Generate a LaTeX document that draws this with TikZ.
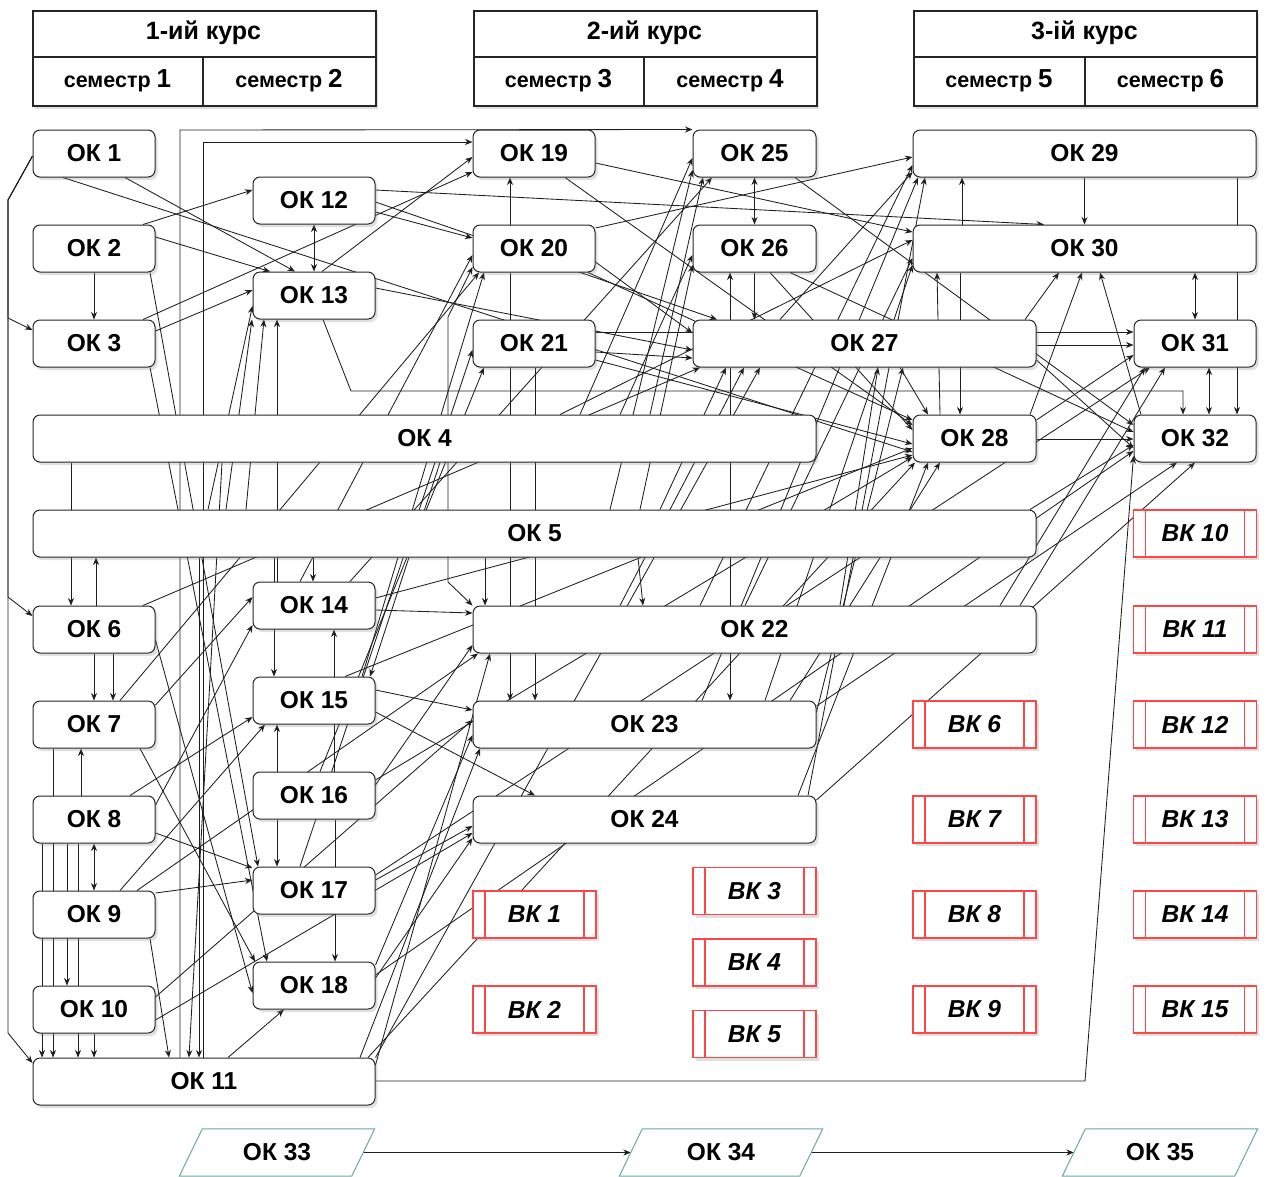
\documentclass[tikz,border=0pt]{standalone}
\usepackage{fontspec}
\setmainfont{Liberation Sans}
\usetikzlibrary{arrows.meta,shadows,backgrounds}
\definecolor{vkred}{RGB}{255,70,70}
\definecolor{tealb}{RGB}{103,171,159}
\definecolor{edgec}{RGB}{30,30,30}
\begin{document}
\begin{tikzpicture}[x=1pt,y=-1pt,
  shad/.style={drop shadow={opacity=0.25,shadow xshift=2.5pt,shadow yshift=-3pt}},
  ok/.style={draw=black!85,line width=1pt,fill=white,rounded corners=7pt,minimum height=47pt,inner sep=0pt,font=\fontsize{24.5}{28}\selectfont\bfseries,shad},
  hdr/.style={draw=black!85,line width=1.8pt,fill=white,inner sep=0pt,shad},
  htxt/.style={font=\fontsize{25}{30}\selectfont\bfseries,inner sep=0pt},
  stxt/.style={font=\fontsize{21.5}{26}\selectfont\bfseries,inner sep=0pt},
  vk/.style={draw=vkred,line width=1.1pt,fill=white,minimum width=123pt,minimum height=47pt,inner sep=0pt,font=\fontsize{24.5}{28}\selectfont\bfseries\itshape,shad,
    path picture={\draw[vkred,line width=1.1pt] ([xshift=12pt]path picture bounding box.north west) -- ([xshift=12pt]path picture bounding box.south west) ([xshift=-12pt]path picture bounding box.north east) -- ([xshift=-12pt]path picture bounding box.south east);}},
  ptxt/.style={minimum height=47pt,inner sep=0pt,font=\fontsize{24.5}{28}\selectfont\bfseries},
  para/.style={draw=tealb,line width=1pt},
  l/.style={draw=edgec,line width=0.85pt},
  e/.style={l,-{Stealth[length=7.5pt,width=6pt]}},
  ee/.style={l,{Stealth[length=7.5pt,width=6pt]}-{Stealth[length=7.5pt,width=6pt]}}
]
\useasboundingbox (0,0) rectangle (1268,1176);

% ---------- headers ----------
\node[hdr,minimum width=343pt,minimum height=95pt,anchor=north west] (h1) at (32,10) {};
\node[hdr,minimum width=343pt,minimum height=95pt,anchor=north west] (h2) at (473,10) {};
\node[hdr,minimum width=343pt,minimum height=95pt,anchor=north west] (h3) at (913,10) {};
\foreach \h/\s in {h1/203,h2/644,h3/1085}{
  \draw[draw=black!85,line width=1.8pt] (\h.west |- 0,57) -- (\h.east |- 0,57);
  \draw[draw=black!85,line width=1.8pt] (\h.south -| \s,0) -- (\s,57);
}
\node[htxt] (t1) at (203.5,33) {1-ий курс};
\node[htxt] (t2) at (644.5,33) {2-ий курс};
\node[htxt] (t3) at (1084.5,33) {3-ій курс};
\node[stxt] (s1) at (117.5,81) {семестр {\fontsize{26}{28}\selectfont 1}};
\node[stxt] (s2) at (289,81) {семестр {\fontsize{26}{28}\selectfont 2}};
\node[stxt] (s3) at (558.5,81) {семестр {\fontsize{26}{28}\selectfont 3}};
\node[stxt] (s4) at (730,81) {семестр {\fontsize{26}{28}\selectfont 4}};
\node[stxt] (s5) at (999,81) {семестр {\fontsize{26}{28}\selectfont 5}};
\node[stxt] (s6) at (1170.5,81) {семестр {\fontsize{26}{28}\selectfont 6}};

% ---------- OK nodes ----------
\node[ok,minimum width=122pt] (ok1) at (94,153.5) {ОК 1};
\node[ok,minimum width=122pt] (ok2) at (94,248.5) {ОК 2};
\node[ok,minimum width=122pt] (ok3) at (94,343.5) {ОК 3};
\node[ok,minimum width=783pt] (ok4) at (424.5,438.5) {ОК 4};
\node[ok,minimum width=1003pt] (ok5) at (534.5,533.5) {ОК 5};
\node[ok,minimum width=122pt] (ok6) at (94,629.5) {ОК 6};
\node[ok,minimum width=122pt] (ok7) at (94,724.5) {ОК 7};
\node[ok,minimum width=122pt] (ok8) at (94,819.5) {ОК 8};
\node[ok,minimum width=122pt] (ok9) at (94,914.5) {ОК 9};
\node[ok,minimum width=122pt] (ok10) at (94,1009.5) {ОК 10};
\node[ok,minimum width=342pt] (ok11) at (204,1081.5) {ОК 11};
\node[ok,minimum width=122pt] (ok12) at (314,200.5) {ОК 12};
\node[ok,minimum width=122pt] (ok13) at (314,295.5) {ОК 13};
\node[ok,minimum width=122pt] (ok14) at (314,605.5) {ОК 14};
\node[ok,minimum width=122pt] (ok15) at (314,700.5) {ОК 15};
\node[ok,minimum width=122pt] (ok16) at (314,795.5) {ОК 16};
\node[ok,minimum width=122pt] (ok17) at (314,890.5) {ОК 17};
\node[ok,minimum width=122pt] (ok18) at (314,985.5) {ОК 18};
\node[ok,minimum width=122pt] (ok19) at (534,153.5) {ОК 19};
\node[ok,minimum width=122pt] (ok20) at (534,248.5) {ОК 20};
\node[ok,minimum width=122pt] (ok21) at (534,343.5) {ОК 21};
\node[ok,minimum width=563pt] (ok22) at (754.5,629.5) {ОК 22};
\node[ok,minimum width=343pt] (ok23) at (644.5,724.5) {ОК 23};
\node[ok,minimum width=343pt] (ok24) at (644.5,819.5) {ОК 24};
\node[ok,minimum width=123pt] (ok25) at (754.5,153.5) {ОК 25};
\node[ok,minimum width=123pt] (ok26) at (754.5,248.5) {ОК 26};
\node[ok,minimum width=343pt] (ok27) at (864.5,343.5) {ОК 27};
\node[ok,minimum width=123pt] (ok28) at (974.5,438.5) {ОК 28};
\node[ok,minimum width=343pt] (ok29) at (1084.5,153.5) {ОК 29};
\node[ok,minimum width=343pt] (ok30) at (1084.5,248.5) {ОК 30};
\node[ok,minimum width=122pt] (ok31) at (1195,343.5) {ОК 31};
\node[ok,minimum width=122pt] (ok32) at (1195,438.5) {ОК 32};

% ---------- VK nodes ----------
\node[vk] (vk1) at (534.5,914.5) {ВК 1};
\node[vk] (vk2) at (534.5,1009.5) {ВК 2};
\node[vk] (vk3) at (754.5,891) {ВК 3};
\node[vk] (vk4) at (754.5,962.5) {ВК 4};
\node[vk] (vk5) at (754.5,1034) {ВК 5};
\node[vk] (vk6) at (974.5,724.5) {ВК 6};
\node[vk] (vk7) at (974.5,819.5) {ВК 7};
\node[vk] (vk8) at (974.5,914.5) {ВК 8};
\node[vk] (vk9) at (974.5,1009.5) {ВК 9};
\node[vk] (vk10) at (1195,533.5) {ВК 10};
\node[vk] (vk11) at (1195,629.5) {ВК 11};
\node[vk] (vk12) at (1195,724.5) {ВК 12};
\node[vk] (vk13) at (1195,819.5) {ВК 13};
\node[vk] (vk14) at (1195,914.5) {ВК 14};
\node[vk] (vk15) at (1195,1009.5) {ВК 15};

% ---------- parallelograms ----------
\node[ptxt,minimum width=172pt] (ok33) at (277,1152.5) {ОК 33};
\node[ptxt,minimum width=180pt] (ok34) at (721,1152.5) {ОК 34};
\node[ptxt,minimum width=172pt] (ok35) at (1160,1152.5) {ОК 35};
\foreach \p in {ok33,ok34,ok35}{
  \draw[para] ([xshift=11.5pt]\p.north west) -- ([xshift=11.5pt]\p.north east) -- ([xshift=-11.5pt]\p.south east) -- ([xshift=-11.5pt]\p.south west) -- cycle;
}

% ---------- connectors ----------
\begin{scope}[on background layer]
% orthogonal / vertical
\path[e] (ok1.west |- 0,156) -- (8,200) -- (8,1033) -- (ok11.west |- 0,1063);
\path[e] (ok1.west |- 0,156) -- (8,200) -- (8,318) -- (ok3.west |- 0,330);
\path[e] (ok1.west |- 0,156) -- (8,200) -- (8,597) -- (ok6.west |- 0,616);
\path[e] (ok2.south) -- (ok3.north);
\path[ee] (ok12.south) -- (ok13.north);
\path[e] (ok11.north -| 180,0) -- (180,130) -- (ok25.north west);
\path[e] (ok11.north -| 203,0) -- (203,142) -- (ok19.west |- 0,142);
\path[e] (ok20.north -| 510,0) -- (ok19.south -| 510,0);
\path[e] (ok20.south -| 510,0) -- (ok23.north -| 510,0);
\path[e] (ok21.south -| 535,0) -- (ok23.north -| 535,0);
\path[ee] (ok25.south) -- (ok26.north);
\path[e] (ok26.south) -- (ok27.north -| 754.5,0);
\path[e] (ok27.north -| 730,0) -- (ok26.south -| 730,0);
\path[e] (ok27.south -| 730,0) -- (ok23.north -| 730,0);
\path[e] (ok29.south) -- (ok30.north);
\path[e] (ok30.north -| 962,0) -- (ok29.south -| 962,0);
\path[e] (ok30.south -| 960,0) -- (ok28.north -| 960,0);
\path[e] (ok29.south -| 1237,0) -- (ok32.north -| 1237,0);
\path[ee] (ok30.south -| 1195,0) -- (ok31.north);
\path[ee] (ok31.south -| 1209,0) -- (ok32.north -| 1209,0);
\path[e] (ok21.east |- 0,332) -- (ok31.west |- 0,332);
\path[e] (ok27.east |- 0,345) -- (ok31.west |- 0,345);
\path[e] (ok28.east |- 0,439) -- (ok32.west |- 0,439);
\path[e] (ok13.south -| 323,0) -- (351,391) -- (1183,391) -- (ok32.north -| 1183,0);
\path[e] (ok11.east |- 0,1081) -- (1085,1081) -- (ok32.west |- 0,456);
\path[e] (ok33.east) -- (ok34.west);
\path[e] (ok34.east) -- (ok35.west);
\path[e] (ok4.south -| 71,0) -- (ok6.north -| 71,0);
\path[e] (ok6.north -| 96,0) -- (ok5.south -| 96,0);
\path[e] (ok6.south -| 94,0) -- (ok7.north -| 94,0);
\path[e] (ok6.south -| 113,0) -- (ok7.north -| 113,0);
\path[e] (ok8.north -| 81,0) -- (ok7.south -| 81,0);
\path[e] (ok7.south -| 53,0) -- (ok11.north -| 53,0);
\path[e] (ok8.south -| 42,0) -- (ok11.north -| 42,0);
\path[e] (ok8.south -| 78,0) -- (ok11.north -| 78,0);
\path[e] (ok8.south -| 67,0) -- (ok10.north -| 67,0);
\path[ee] (ok8.south) -- (ok9.north);
\path[e] (ok10.south) -- (ok11.north -| 94,0);
\path[e] (ok16.south -| 277,0) -- (ok17.north -| 277,0);
\path[e] (ok16.north -| 277,0) -- (ok15.south -| 277,0);
\path[e] (ok16.north -| 334,0) -- (ok14.south -| 334,0);
\path[e] (ok16.south -| 335,0) -- (ok18.north -| 335,0);
\path[e] (ok5.south -| 313,0) -- (ok14.north -| 313,0);
\path[e] (ok5.south -| 274,0) -- (ok15.north -| 274,0);
\path[ee] (ok20.west |- 0,267) -- (448,317) -- (448,582) -- (ok22.north west);
\path[e] (ok5.south -| 485,0) -- (ok22.north -| 485,0);
\path[e] (ok5.south -| 638,0) -- (ok22.north -| 643,0);
\path[e] (ok5.north -| 226,0) -- (ok13.south -| 252,0);
\path[e] (ok5.north -| 246,0) -- (ok13.south -| 264,0);
\path[e] (ok14.north -| 277,0) -- (ok13.south -| 277,0);
\path[e] (ok5.north -| 208,0) -- (ok13.west |- 0,306);
% diagonals - upper left
\path[e] (ok1.south -| 125,0) -- (ok13.north -| 295,0);
\path[e] (ok1.south -| 63,0) -- (ok28.west |- 0,452);
\path[e] (ok2.north -| 143,0) -- (ok12.west |- 0,190);
\path[e] (ok2.east |- 0,237) -- (ok13.north -| 270,0);
\path[e] (ok2.south -| 150,0) -- (ok17.north -| 258,0);
\path[e] (ok3.east |- 0,331) -- (ok13.west |- 0,290);
\path[e] (ok3.north -| 143,0) -- (ok19.west |- 0,172);
\path[e] (ok13.north -| 322,0) -- (ok19.west |- 0,157);
\path[e] (ok12.east |- 0,190) -- (ok30.north -| 1044,0);
\path[e] (ok12.east |- 0,202) -- (ok27.north -| 717,0);
\path[e] (ok12.east |- 0,212) -- (ok20.west |- 0,238);
\path[e] (ok13.east |- 0,288) -- (ok27.west |- 0,350);
\path[e] (ok3.south -| 150,0) -- (ok18.north -| 267,0);
% upper middle
\path[e] (ok19.east |- 0,163) -- (ok30.west |- 0,232);
\path[e] (ok19.south -| 565,0) -- (ok28.west |- 0,425);
\path[e] (ok20.east |- 0,228) -- (ok29.west |- 0,157);
\path[e] (ok20.east |- 0,262) -- (ok27.west |- 0,333);
\path[e] (ok20.south -| 588,0) -- (ok28.west |- 0,420);
\path[e] (ok21.east |- 0,352) -- (ok27.west |- 0,358);
\path[e] (ok21.east |- 0,360) -- (ok28.west |- 0,444);
\path[e] (ok25.south -| 795,0) -- (ok32.west |- 0,425);
\path[e] (ok26.south -| 770,0) -- (ok28.west |- 0,430);
\path[e] (ok26.south -| 790,0) -- (ok32.west |- 0,432);
\path[e] (ok27.east |- 0,360) -- (ok32.west |- 0,448);
\path[e] (ok27.south -| 900,0) -- (ok28.north -| 928,0);
\path[e] (ok27.north -| 1025,0) -- (ok30.south -| 1059,0);
\path[e] (ok28.north -| 940,0) -- (ok30.south -| 937,0);
\path[e] (ok28.north -| 1030,0) -- (ok30.south -| 1082,0);
\path[e] (ok32.north -| 1141,0) -- (ok30.south -| 1100,0);
\path[e] (ok28.east |- 0,420) -- (ok31.west |- 0,355);
\path[e] (ok27.north -| 780,0) -- (ok29.west |- 0,172);
% from OK4 / OK5 upwards
\path[e] (ok4.north -| 580,0) -- (ok25.west |- 0,158);
\path[e] (ok5.north -| 610,0) -- (ok25.west |- 0,170);
\path[e] (ok4.north -| 650,0) -- (ok25.south -| 703,0);
\path[e] (ok4.north -| 620,0) -- (ok26.west |- 0,255);
\path[e] (ok5.north -| 640,0) -- (ok26.west |- 0,265);
\path[e] (ok4.north -| 560,0) -- (ok30.west |- 0,240);
\path[e] (ok5.north -| 660,0) -- (ok27.south -| 726,0);
\path[e] (ok5.north -| 1030,0) -- (ok32.west |- 0,445);
% from OK22 / OK23 / OK24 upwards
\path[e] (ok22.north -| 700,0) -- (ok29.west |- 0,165);
\path[e] (ok23.north -| 702,0) -- (ok29.south -| 918,0);
\path[e] (ok22.north -| 745,0) -- (ok30.west |- 0,258);
\path[e] (ok23.north -| 765,0) -- (ok30.west |- 0,265);
\path[e] (ok24.north -| 808,0) -- (ok29.south -| 925,0);
\path[e] (ok22.north -| 620,0) -- (ok27.south -| 744,0);
\path[e] (ok22.north -| 840,0) -- (ok27.south -| 878,0);
\path[e] (ok23.east |- 0,712) -- (ok27.south -| 903,0);
\path[e] (ok23.east |- 0,706) -- (ok32.south -| 1177,0);
\path[e] (ok24.east |- 0,800) -- (ok32.south -| 1195,0);
\path[e] (ok24.north -| 798,0) -- (ok28.south -| 928,0);
\path[e] (ok23.north -| 790,0) -- (ok28.south -| 940,0);
\path[e] (ok22.north -| 1000,0) -- (ok31.south -| 1145,0);
\path[e] (ok22.north -| 1020,0) -- (ok31.south -| 1165,0);
% lower left cluster
\path[e] (ok11.north -| 368,0) -- (ok28.south -| 915,0);
\path[e] (ok18.east |- 0,975) -- (ok32.west |- 0,451);
\path[e] (ok17.east |- 0,875) -- (ok31.south -| 1150,0);
\path[e] (ok16.east |- 0,780) -- (ok28.west |- 0,457);
\path[e] (ok15.north -| 345,0) -- (ok28.west |- 0,448);
\path[e] (ok14.east |- 0,598) -- (ok28.west |- 0,455);
\path[e] (ok14.east |- 0,610) -- (ok22.west |- 0,613);
\path[e] (ok15.east |- 0,690) -- (ok23.west |- 0,710);
\path[e] (ok15.east |- 0,712) -- (ok24.north -| 535,0);
\path[e] (ok7.north -| 120,0) -- (ok20.south -| 479,0);
\path[e] (ok6.north -| 143,0) -- (ok27.south -| 700,0);
\path[e] (ok7.east |- 0,705) -- (ok14.west |- 0,597);
\path[e] (ok8.east |- 0,805) -- (ok14.west |- 0,625);
\path[e] (ok8.east |- 0,833) -- (ok17.west |- 0,868);
\path[e] (ok9.east |- 0,893) -- (ok17.west |- 0,880);
\path[e] (ok6.east |- 0,640) -- (ok18.west |- 0,993);
\path[e] (ok11.north -| 228,0) -- (ok18.south -| 284,0);
\path[e] (ok10.east |- 0,997) -- (ok23.west |- 0,720);
\path[e] (ok10.east |- 0,1020) -- (ok24.west |- 0,833);
\path[e] (ok9.north -| 120,0) -- (ok15.south -| 265,0);
\path[e] (ok8.north -| 130,0) -- (ok15.west |- 0,717);
\path[e] (ok9.north -| 137,0) -- (ok22.south -| 478,0);
\path[e] (ok14.north -| 300,0) -- (ok20.west |- 0,255);
\path[e] (ok15.north -| 362,0) -- (ok20.south -| 484,0);
\path[e] (ok17.north -| 300,0) -- (ok21.west |- 0,350);
\path[e] (ok16.north -| 320,0) -- (ok21.south -| 484,0);
\path[e] (ok4.south -| 440,0) -- (ok15.north -| 370,0);
\path[e] (ok7.south -| 140,0) -- (ok18.north -| 255,0);
\path[e] (ok9.south -| 150,0) -- (ok11.north -| 169,0);
\path[e] (ok5.south -| 199,0) -- (ok11.north -| 199,0);
\path[e] (ok4.south -| 222,0) -- (ok11.north -| 189,0);
\path[e] (ok11.east |- 0,1065) -- (ok22.south -| 490,0);
\path[e] (ok11.north -| 360,0) -- (ok23.south -| 480,0);
\path[e] (ok18.east |- 0,978) -- (ok24.west |- 0,838);
\path[e] (ok17.east |- 0,880) -- (ok24.west |- 0,826);
\path[e] (ok18.east |- 0,965) -- (ok23.west |- 0,735);
\path[e] (ok11.north east) -- (ok27.south -| 760,0);
\path[e] (ok16.east |- 0,785) -- (ok22.west |- 0,645);
\path[e] (ok14.north -| 350,0) -- (ok25.south -| 712,0);
\end{scope}
\end{tikzpicture}
\end{document}
